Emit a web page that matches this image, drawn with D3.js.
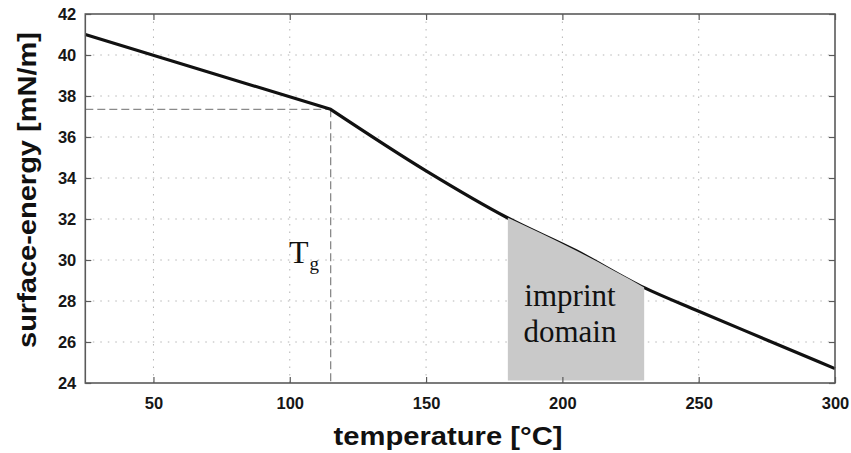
<!DOCTYPE html>
<html>
<head>
<meta charset="utf-8">
<script src="https://cdn.jsdelivr.net/npm/d3@7"></script>
<style>
  html, body { margin: 0; padding: 0; background: #fff; }
  svg { display: block; }
</style>
</head>
<body>
<svg id="chart" width="851" height="453"></svg>
<script>
// ---- data ----
const temperature = [25, 115, 150, 180, 205, 230, 250, 275, 300];
const surfaceEnergy = [41.0, 37.35, 34.35, 32.05, 30.45, 28.65, 27.5, 26.1, 24.7];
const xTicks = [50, 100, 150, 200, 250, 300];
const yTicks = [24, 26, 28, 30, 32, 34, 36, 38, 40, 42];
const tg = 115;
const tgEnergy = 37.35;
const imprintRange = [180, 230];
const imprintBase = 24.12;

const svg = d3.select("#chart");
const x = d3.scaleLinear().domain([25, 300]).range([85.3, 835]);
const y = d3.scaleLinear().domain([24, 42]).range([383, 14]);
const [x0, x1] = x.range();
const [y0, y1] = y.range();

// grid
const grid = svg.append("g");
grid.selectAll(".gx").data(xTicks.filter(d => d < 300)).enter().append("line")
  .attr("x1", d => x(d)).attr("x2", d => x(d)).attr("y1", y0).attr("y2", y1)
  .attr("stroke", "#b5b5b5").attr("stroke-width", 1).attr("stroke-dasharray", "1.5,6");
grid.selectAll(".gy").data(yTicks.filter(d => d > 24 && d < 42)).enter().append("line")
  .attr("x1", x0).attr("x2", x1).attr("y1", d => y(d)).attr("y2", d => y(d))
  .attr("stroke", "#b5b5b5").attr("stroke-width", 1).attr("stroke-dasharray", "1.5,6");

const pts = temperature.map((t, i) => [t, surfaceEnergy[i]]);
const glassy = pts.filter(d => d[0] <= tg);
const rubbery = pts.filter(d => d[0] >= tg);

// dashed Tg guides
svg.append("line").attr("x1", x0).attr("x2", x(tg)).attr("y1", y(tgEnergy)).attr("y2", y(tgEnergy))
  .attr("stroke", "#8a8a8a").attr("stroke-width", 1.3).attr("stroke-dasharray", "8,4");
svg.append("line").attr("x1", x(tg)).attr("x2", x(tg)).attr("y1", y(tgEnergy)).attr("y2", y0)
  .attr("stroke", "#8a8a8a").attr("stroke-width", 1.3).attr("stroke-dasharray", "8,4");

// main curve: straight glassy part, smooth rubbery part
const lineLin = d3.line().x(d => x(d[0])).y(d => y(d[1]));
const lineSmooth = d3.line().x(d => x(d[0])).y(d => y(d[1])).curve(d3.curveMonotoneX);
const dPath = lineLin(glassy) + lineSmooth(rubbery).replace(/^M[^LC]*/, "");
svg.append("path")
  .attr("fill", "none").attr("stroke", "#111").attr("stroke-width", 3.2)
  .attr("stroke-linejoin", "round")
  .attr("d", dPath);

// imprint domain shading (drawn over the curve, following it)
const shadeRegion = rubbery.filter(d => d[0] >= imprintRange[0] - 1e-9 && d[0] <= imprintRange[1] + 1e-9);
svg.append("path").datum(shadeRegion)
  .attr("fill", "#c9c9c9")
  .attr("d", d3.area().x(d => x(d[0])).y0(y(imprintBase)).y1(d => y(d[1]) - 0.3).curve(d3.curveMonotoneX));

// axes frame
svg.append("rect").attr("x", x0).attr("y", y1).attr("width", x1 - x0).attr("height", y0 - y1)
  .attr("fill", "none").attr("stroke", "#5a5a5a").attr("stroke-width", 1.6);

// axes with inward ticks
const tickFont = "'Liberation Sans', Arial, sans-serif";
svg.append("g").attr("transform", `translate(0,${y0})`)
  .call(d3.axisBottom(x).tickValues(xTicks).tickSize(-6).tickPadding(14).tickFormat(d3.format("d")));
svg.append("g").attr("transform", `translate(${x0},0)`)
  .call(d3.axisLeft(y).tickValues(yTicks).tickSize(-6).tickPadding(9).tickFormat(d3.format("d")));
svg.append("g").attr("transform", `translate(0,${y1})`)
  .call(d3.axisTop(x).tickValues(xTicks).tickSize(-6).tickFormat(""));
svg.append("g").attr("transform", `translate(${x1},0)`)
  .call(d3.axisRight(y).tickValues(yTicks).tickSize(-6).tickFormat(""));
svg.selectAll(".domain").remove();
svg.selectAll(".tick line").attr("stroke", "#5a5a5a").attr("stroke-width", 1.2);
svg.selectAll(".tick text")
  .attr("font-family", tickFont).attr("font-weight", "bold").attr("font-size", 16.5)
  .attr("fill", "#161616");

// axis titles
svg.append("text").text("temperature [°C]")
  .attr("x", 448).attr("y", 445).attr("text-anchor", "middle")
  .attr("font-family", tickFont).attr("font-weight", "bold").attr("font-size", 25)
  .attr("textLength", 229).attr("lengthAdjust", "spacingAndGlyphs").attr("fill", "#111");
svg.append("text").text("surface-energy [mN/m]")
  .attr("transform", "translate(36,190) rotate(-90)").attr("text-anchor", "middle")
  .attr("font-family", tickFont).attr("font-weight", "bold").attr("font-size", 25)
  .attr("textLength", 316).attr("lengthAdjust", "spacingAndGlyphs").attr("fill", "#111");

// annotations
const serif = "'Liberation Serif', 'Times New Roman', serif";
const tgText = svg.append("text").attr("x", 289).attr("y", 263)
  .attr("font-family", serif).attr("font-size", 32).attr("fill", "#111");
tgText.append("tspan").text("T");
tgText.append("tspan").text("g").attr("font-size", 19).attr("dx", 1).attr("dy", 7);

svg.append("text").attr("x", 570).attr("y", 306).attr("text-anchor", "middle")
  .attr("font-family", serif).attr("font-size", 31).attr("fill", "#111").text("imprint");
svg.append("text").attr("x", 570).attr("y", 342).attr("text-anchor", "middle")
  .attr("font-family", serif).attr("font-size", 31).attr("fill", "#111").text("domain");
</script>
</body>
</html>
